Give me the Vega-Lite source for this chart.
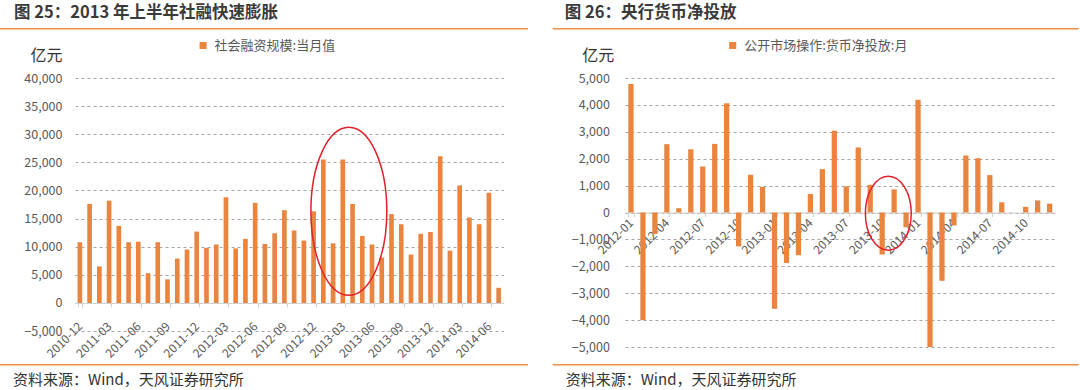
{
  "$schema": "https://vega.github.io/schema/vega-lite/v6.json",
  "background": "white",
  "padding": {"left": 0, "top": 4, "right": 0, "bottom": 0},
  "config": {"font": "Noto Sans CJK SC", "view": {"stroke": null}, "axis": {"labelOverlap": false}},
  "resolve": {"scale": {"color": "independent"}, "legend": {"color": "independent"}},
  "datasets": {
    "sf": [
      {"month": "2010-12", "value": 10800}, {"month": "2011-01", "value": 17600}, {"month": "2011-02", "value": 6500},
      {"month": "2011-03", "value": 18200}, {"month": "2011-04", "value": 13700}, {"month": "2011-05", "value": 10800},
      {"month": "2011-06", "value": 10900}, {"month": "2011-07", "value": 5300}, {"month": "2011-08", "value": 10800},
      {"month": "2011-09", "value": 4200}, {"month": "2011-10", "value": 7900}, {"month": "2011-11", "value": 9500},
      {"month": "2011-12", "value": 12700}, {"month": "2012-01", "value": 9800}, {"month": "2012-02", "value": 10400},
      {"month": "2012-03", "value": 18800}, {"month": "2012-04", "value": 9700}, {"month": "2012-05", "value": 11400},
      {"month": "2012-06", "value": 17800}, {"month": "2012-07", "value": 10500}, {"month": "2012-08", "value": 12400},
      {"month": "2012-09", "value": 16500}, {"month": "2012-10", "value": 12900}, {"month": "2012-11", "value": 11100},
      {"month": "2012-12", "value": 16300}, {"month": "2013-01", "value": 25500}, {"month": "2013-02", "value": 10600},
      {"month": "2013-03", "value": 25500}, {"month": "2013-04", "value": 17600}, {"month": "2013-05", "value": 11900},
      {"month": "2013-06", "value": 10400}, {"month": "2013-07", "value": 8100}, {"month": "2013-08", "value": 15800},
      {"month": "2013-09", "value": 14000}, {"month": "2013-10", "value": 8600}, {"month": "2013-11", "value": 12300},
      {"month": "2013-12", "value": 12600}, {"month": "2014-01", "value": 26100}, {"month": "2014-02", "value": 9300},
      {"month": "2014-03", "value": 20900}, {"month": "2014-04", "value": 15200}, {"month": "2014-05", "value": 14000},
      {"month": "2014-06", "value": 19600}, {"month": "2014-07", "value": 2700}
    ],
    "omo": [
      {"month": "2012-01", "value": 4780}, {"month": "2012-02", "value": -4000}, {"month": "2012-03", "value": -800},
      {"month": "2012-04", "value": 2540}, {"month": "2012-05", "value": 160}, {"month": "2012-06", "value": 2350},
      {"month": "2012-07", "value": 1710}, {"month": "2012-08", "value": 2550}, {"month": "2012-09", "value": 4060},
      {"month": "2012-10", "value": -1260}, {"month": "2012-11", "value": 1400}, {"month": "2012-12", "value": 950},
      {"month": "2013-01", "value": -3580}, {"month": "2013-02", "value": -1880}, {"month": "2013-03", "value": -1590},
      {"month": "2013-04", "value": 690}, {"month": "2013-05", "value": 1610}, {"month": "2013-06", "value": 3040},
      {"month": "2013-07", "value": 970}, {"month": "2013-08", "value": 2420}, {"month": "2013-09", "value": 1030},
      {"month": "2013-10", "value": -1560}, {"month": "2013-11", "value": 860}, {"month": "2013-12", "value": -550},
      {"month": "2014-01", "value": 4190}, {"month": "2014-02", "value": -5000}, {"month": "2014-03", "value": -2540},
      {"month": "2014-04", "value": -480}, {"month": "2014-05", "value": 2120}, {"month": "2014-06", "value": 2020},
      {"month": "2014-07", "value": 1390}, {"month": "2014-08", "value": 380}, {"month": "2014-09", "value": 0},
      {"month": "2014-10", "value": 210}, {"month": "2014-11", "value": 450}, {"month": "2014-12", "value": 330}
    ]
  },
  "spacing": 9,
  "vconcat": [
    {
      "spacing": 24.7,
      "hconcat": [
        {
          "width": 528, "height": 1.5,
          "data": {"values": [{}]},
          "mark": {"type": "point", "size": 0, "opacity": 0},
          "encoding": {},
          "view": {"fill": "#EC8F45", "stroke": null},
          "title": {"text": "图 25：2013 年上半年社融快速膨胀", "anchor": "start", "dx": 14, "dy": 15, "fontSize": 16.5, "fontWeight": "bold", "color": "#3a3a3a", "offset": 6, "baseline": "bottom"}
        },
        {
          "width": 526, "height": 1.5,
          "data": {"values": [{}]},
          "mark": {"type": "point", "size": 0, "opacity": 0},
          "encoding": {},
          "view": {"fill": "#EC8F45", "stroke": null},
          "title": {"text": "图 26：央行货币净投放", "anchor": "start", "dx": 12, "dy": 15, "fontSize": 16.5, "fontWeight": "bold", "color": "#3a3a3a", "offset": 6, "baseline": "bottom"}
        }
      ]
    },
    {
      "spacing": 4,
      "resolve": {"scale": {"color": "independent"}, "legend": {"color": "independent"}},
      "vconcat": [
        {
          "bounds": "flush",
          "spacing": 10,
          "resolve": {"scale": {"color": "independent"}, "legend": {"color": "independent"}},
          "hconcat": [
            {
              "width": 64.4, "height": 1,
              "data": {"values": [{}]},
              "mark": {"type": "point", "size": 0, "opacity": 0},
              "encoding": {}
            },
            {
              "spacing": 20,
              "resolve": {"scale": {"color": "independent"}, "legend": {"color": "independent"}},
              "hconcat": [
                {
                  "width": 428.5, "height": 253.1,
                  "data": {"name": "sf"},
                  "encoding": {
                    "x": {
                      "field": "month", "type": "ordinal", "sort": null,
                      "scale": {"paddingInner": 0.52, "paddingOuter": 0.26},
                      "axis": {
                        "values": ["2010-12", "2011-03", "2011-06", "2011-09", "2011-12", "2012-03", "2012-06", "2012-09", "2012-12", "2013-03", "2013-06", "2013-09", "2013-12", "2014-03", "2014-06"],
                        "title": null, "labelAngle": -45, "labelAlign": "right", "labelBaseline": "middle", "labelOverlap": false,
                        "labelFontSize": 12, "labelColor": "#595959", "labelPadding": 17,
                        "tickBand": "extent", "tickSize": 4, "tickColor": "#D0D0D0",
                        "domainColor": "#D0D0D0", "offset": -28.1, "grid": false
                      }
                    }
                  },
                  "layer": [
                    {
                      "mark": {"type": "bar"},
                      "encoding": {
                        "y": {
                          "field": "value", "type": "quantitative", "title": "亿元",
                          "scale": {"domain": [-5000, 40000], "nice": false, "zero": false},
                          "axis": {
                            "values": [-5000, 0, 5000, 10000, 15000, 20000, 25000, 30000, 35000, 40000], "tickCount": 30,
                            "format": ",d", "grid": true, "gridDash": [3, 3], "gridColor": "#A6A6A6", "labelOverlap": false,
                            "domain": false, "ticks": false, "labelPadding": 13, "labelFontSize": 12.5, "labelColor": "#595959",
                            "minExtent": 74.4, "titleAngle": 0, "titleX": -45, "titleY": -23, "titleAlign": "left", "titleBaseline": "middle",
                            "titleFontSize": 16, "titleFontWeight": "normal", "titleColor": "#333333"
                          }
                        },
                        "color": {
                          "datum": "社会融资规模:当月值",
                          "scale": {"range": ["#EA8540"]},
                          "legend": {"orient": "none", "legendX": 121.6, "legendY": -39, "title": null, "symbolType": "square", "symbolSize": 50, "labelFontSize": 13, "labelColor": "#595959", "padding": 0, "labelOffset": 5}
                        }
                      }
                    },
                    {
                      "transform": [{"filter": "datum.month === '2013-04'"}],
                      "mark": {"type": "point", "shape": "M -0.044 -1 A 0.452 1 0 1 1 -0.044 1 A 0.452 1 0 1 1 -0.044 -1 Z", "size": 28224, "filled": false, "stroke": "#E0202A", "strokeWidth": 1.5, "opacity": 1},
                      "encoding": {"y": {"datum": 16300, "type": "quantitative", "title": "亿元", "axis": {"labelOverlap": false, "tickCount": 30}}}
                    }
                  ]
                },
                {
                  "width": 430.6, "height": 269,
                  "data": {"name": "omo"},
                  "encoding": {
                    "x": {
                      "field": "month", "type": "ordinal", "sort": null,
                      "scale": {"paddingInner": 0.56, "paddingOuter": 0.28},
                      "axis": {
                        "values": ["2012-01", "2012-04", "2012-07", "2012-10", "2013-01", "2013-04", "2013-07", "2013-10", "2014-01", "2014-04", "2014-07", "2014-10"],
                        "title": null, "labelAngle": -45, "labelAlign": "right", "labelBaseline": "middle", "labelOverlap": false,
                        "labelFontSize": 12, "labelColor": "#595959", "labelPadding": 4,
                        "tickBand": "extent", "tickSize": 4, "tickColor": "#D0D0D0",
                        "domainColor": "#D0D0D0", "offset": -134.5, "grid": false
                      }
                    }
                  },
                  "layer": [
                    {
                      "mark": {"type": "bar"},
                      "encoding": {
                        "y": {
                          "field": "value", "type": "quantitative", "title": "亿元",
                          "scale": {"domain": [-5000, 5000], "nice": false, "zero": false},
                          "axis": {
                            "values": [-5000, -4000, -3000, -2000, -1000, 0, 1000, 2000, 3000, 4000, 5000], "tickCount": 30,
                            "format": ",d", "grid": true, "gridDash": [3, 3], "gridColor": "#A6A6A6", "labelOverlap": false,
                            "domain": false, "ticks": false, "labelPadding": 15.6, "labelFontSize": 12.5, "labelColor": "#595959",
                            "minExtent": 100.4, "titleAngle": 0, "titleX": -43.3, "titleY": -23, "titleAlign": "left", "titleBaseline": "middle",
                            "titleFontSize": 16, "titleFontWeight": "normal", "titleColor": "#333333"
                          }
                        },
                        "color": {
                          "datum": "公开市场操作:货币净投放:月",
                          "scale": {"range": ["#EA8540"]},
                          "legend": {"orient": "none", "legendX": 101.2, "legendY": -39, "title": null, "symbolType": "square", "symbolSize": 50, "labelFontSize": 13, "labelColor": "#595959", "padding": 0, "labelOffset": 5, "labelLimit": 300}
                        }
                      }
                    },
                    {
                      "transform": [{"filter": "datum.month === '2013-11'"}],
                      "mark": {"type": "point", "shape": "M -0.157 -1 A 0.62 1 0 1 1 -0.157 1 A 0.62 1 0 1 1 -0.157 -1 Z", "size": 5476, "filled": false, "stroke": "#E0202A", "strokeWidth": 1.5, "opacity": 1},
                      "encoding": {"y": {"datum": -30, "type": "quantitative", "title": "亿元", "axis": {"labelOverlap": false, "tickCount": 30}}}
                    }
                  ]
                }
              ]
            }
          ]
        },
        {
          "spacing": 24.7,
          "hconcat": [
            {
              "width": 528, "height": 1.5,
              "data": {"values": [{}]},
              "mark": {"type": "point", "size": 0, "opacity": 0},
              "encoding": {},
              "view": {"fill": "#EC8F45", "stroke": null},
              "title": {"text": "资料来源：Wind，天风证券研究所", "orient": "bottom", "anchor": "start", "dx": 13, "fontSize": 15, "fontWeight": "normal", "color": "#333333", "offset": 7, "baseline": "top"}
            },
            {
              "width": 526, "height": 1.5,
              "data": {"values": [{}]},
              "mark": {"type": "point", "size": 0, "opacity": 0},
              "encoding": {},
              "view": {"fill": "#EC8F45", "stroke": null},
              "title": {"text": "资料来源：Wind，天风证券研究所", "orient": "bottom", "anchor": "start", "dx": 13, "fontSize": 15, "fontWeight": "normal", "color": "#333333", "offset": 7, "baseline": "top"}
            }
          ]
        }
      ]
    }
  ]
}
